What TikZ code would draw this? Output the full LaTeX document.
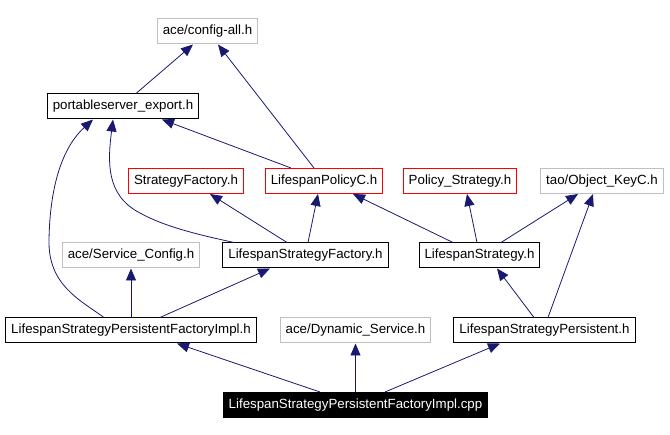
\documentclass[tikz,border=0pt]{standalone}
\usepackage{fontspec}
\setmainfont{Liberation Sans}
\usetikzlibrary{arrows.meta}
\definecolor{edgeblue}{HTML}{191970}
\definecolor{sysgray}{HTML}{BFBFBF}
\tikzset{
  hdr/.style={draw=black,rectangle,line width=1pt,inner xsep=5.5pt,inner ysep=0pt,
    minimum height=25pt,font=\fontsize{13.3}{16}\selectfont},
  sysinc/.style={hdr,draw=sysgray},
  redinc/.style={hdr,draw=red},
  srcfile/.style={hdr,fill=black,text=white},
  dep/.style={draw=edgeblue,line width=0.8pt,
    {Triangle[length=12pt,width=10pt,fill=edgeblue]}-}
}
\begin{document}
\begin{tikzpicture}[x=1pt,y=-1pt]

  \useasboundingbox (0,0) rectangle (670,435);

  \node (cfgall) at (207.5,31.5) [sysinc] {ace/config-all.h};
  \node (pse) at (123,106.5) [hdr] {portableserver\_export.h};

  \node (sf) at (186,181) [redinc] {StrategyFactory.h};
  \node (lpc) at (324,181) [redinc] {LifespanPolicyC.h};
  \node (ps) at (460,181) [redinc] {Policy\_Strategy.h};
  \node (okc) at (602,181) [sysinc] {tao/Object\_KeyC.h};

  \node (scfg) at (131,255.5) [sysinc] {ace/Service\_Config.h};
  \node (lsf) at (305.5,255.5) [hdr] {LifespanStrategyFactory.h};
  \node (ls) at (479.5,255.5) [hdr] {LifespanStrategy.h};

  \node (lspfi) at (131,330.5) [hdr] {LifespanStrategyPersistentFactoryImpl.h};
  \node (dyn) at (355.5,330.5) [sysinc] {ace/Dynamic\_Service.h};
  \node (lsp) at (544.5,330.5) [hdr] {LifespanStrategyPersistent.h};

  \node (cpp) at (355.5,405) [srcfile] {LifespanStrategyPersistentFactoryImpl.cpp};

  \draw[dep] ([xshift=-14.5]cfgall.south) -- ([xshift=13]pse.north);
  \draw[dep] ([xshift=10.5]cfgall.south) -- ([xshift=-10]lpc.north);
  \draw[dep] ([xshift=39]pse.south) -- ([xshift=-33]lpc.north);
  \draw[dep] ([xshift=-30]pse.south) .. controls (65,145) and (50,180) .. (49,240)
    .. controls (48,285) and (80,300) .. ([xshift=-27]lspfi.north);
  \draw[dep] ([xshift=-10]pse.south) .. controls (108,160) and (105,195) .. (140,213)
    .. controls (165,227) and (200,235) .. ([xshift=-71.5]lsf.north);

  \draw[dep] ([xshift=24]sf.south) -- ([xshift=-18.5]lsf.north);
  \draw[dep] ([xshift=-6]lpc.south) -- ([xshift=2.5]lsf.north);
  \draw[dep] ([xshift=29]lpc.south) -- ([xshift=-26.5]ls.north);
  \draw[dep] ([xshift=7]ps.south) -- ([xshift=-2.5]ls.north);
  \draw[dep] ([xshift=-24]okc.south) -- ([xshift=21.5]ls.north);
  \draw[dep] ([xshift=-9]okc.south) -- ([xshift=3.5]lsp.north);

  \draw[dep] (scfg.south) -- (lspfi.north);
  \draw[dep] ([xshift=-35.5]lsf.south) -- ([xshift=29]lspfi.north);
  \draw[dep] ([xshift=17.5]ls.south) -- ([xshift=-10.5]lsp.north);

  \draw[dep] ([xshift=46]lspfi.south) -- ([xshift=-35.5]cpp.north);
  \draw[dep] (dyn.south) -- (cpp.north);
  \draw[dep] ([xshift=-44.5]lsp.south) -- ([xshift=29.5]cpp.north);

\end{tikzpicture}
\end{document}
